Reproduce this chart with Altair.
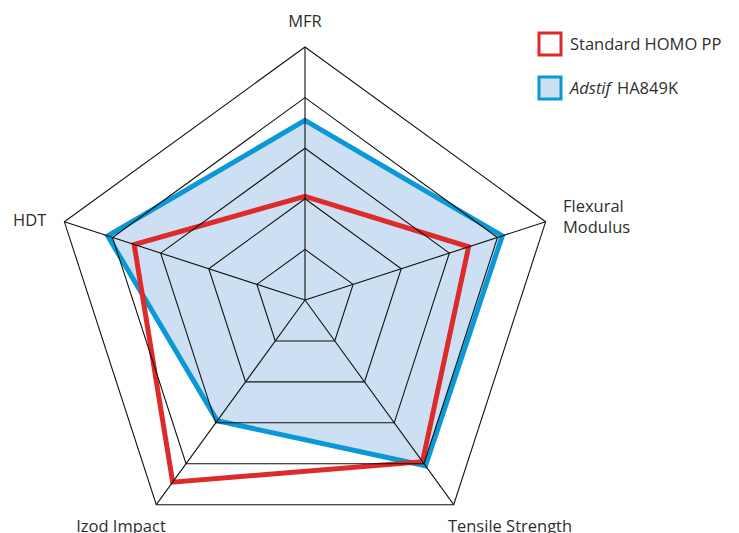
import math
import altair as alt
import pandas as pd

# ---- data ----
axis_names = ["MFR", "Flexural Modulus", "Tensile Strength", "Izod Impact", "HDT"]
standard_values = [41, 68, 79, 89, 71]
adstif_values = [71, 82, 81, 59, 82]
ring_levels = [20, 40, 60, 80, 100]
series_names = ["Standard HOMO PP", "Adstif HA849K"]

RED = "#dd2a2a"
BLUE = "#0a98d6"
FILL = "#cde0f3"
TEXT = "#2e2e2e"
FONT = "Open Sans"

# ---- layout (pixels inside the plot area) ----
W, H = 723, 525
CX, CY, R = 297, 292, 253
x_dom = [-CX / R, (W - CX) / R]
y_dom = [-(H - CY) / R, CY / R]
xs = alt.Scale(domain=x_dom, nice=False, zero=False)
ys = alt.Scale(domain=y_dom, nice=False, zero=False)
N = len(axis_names)

series_rows = []
for name, vals in zip(series_names, [standard_values, adstif_values]):
    for i, (a, v) in enumerate(zip(axis_names, vals)):
        series_rows.append({"series": name, "axis": a, "idx": i, "value": v})
series_df = pd.DataFrame(series_rows)

ring_rows = []
for lvl in ring_levels:
    for i, a in enumerate(axis_names):
        ring_rows.append({"level": lvl, "axis": a, "idx": i, "value": lvl})
ring_df = pd.DataFrame(ring_rows)

spoke_df = pd.DataFrame({"axis": axis_names, "idx": list(range(N)), "value": [ring_levels[-1]] * N})

ang = f"datum.idx * 2 * PI / {N}"
calc = dict(
    x=f"datum.value / 100 * sin({ang})",
    y=f"datum.value / 100 * cos({ang})",
)


def poly(df):
    return alt.Chart(df).transform_calculate(**calc)


X = alt.X("x:Q", scale=xs, axis=None)
Y = alt.Y("y:Q", scale=ys, axis=None)

adstif = poly(series_df).transform_filter(alt.datum.series == series_names[1]).mark_line(
    interpolate="linear-closed", fill=FILL, stroke=BLUE, strokeWidth=5, strokeJoin="miter"
).encode(x=X, y=Y, order="idx:Q")

standard = poly(series_df).transform_filter(alt.datum.series == series_names[0]).mark_line(
    interpolate="linear-closed", stroke=RED, strokeWidth=5, strokeJoin="miter"
).encode(x=X, y=Y, order="idx:Q")

rings = poly(ring_df).mark_line(
    interpolate="linear-closed", stroke="#111111", strokeWidth=1.1
).encode(x=X, y=Y, detail="level:N", order="idx:Q")

spokes = poly(spoke_df).transform_calculate(zero="0").mark_rule(
    stroke="#111111", strokeWidth=1.1
).encode(
    x=alt.X("zero:Q", scale=xs, axis=None),
    y=alt.Y("zero:Q", scale=ys, axis=None),
    x2="x:Q",
    y2="y:Q",
)


def label(text, x, y, align="left", italic=False, size=16.5):
    return alt.Chart(pd.DataFrame({"t": [text]})).mark_text(
        align=align, baseline="alphabetic", font=FONT, fontSize=size,
        fontStyle="italic" if italic else "normal", color=TEXT,
    ).encode(text="t:N", x=alt.value(x), y=alt.value(y))


labels = [
    label(axis_names[0], 297, 19, "center"),
    label("Flexural", 555, 204),
    label("Modulus", 555, 225),
    label(axis_names[2], 502, 524, "center"),
    label(axis_names[3], 113, 524, "center"),
    label(axis_names[4], 5, 218),
]

legend_red = alt.Chart(pd.DataFrame({"s": [series_names[0]]})).mark_point(
    shape="square", size=484, filled=False, fill="white", stroke=RED, strokeWidth=3, opacity=1
).encode(x=alt.value(542), y=alt.value(36))
legend_blue = alt.Chart(pd.DataFrame({"s": [series_names[1]]})).mark_point(
    shape="square", size=484, filled=False, fill=FILL, stroke=BLUE, strokeWidth=3, opacity=1
).encode(x=alt.value(542), y=alt.value(80))

legend_text = [
    label(series_names[0], 562, 42),
    label("Adstif", 562, 86, italic=True),
    label("HA849K", 609, 86),
]

chart = alt.layer(
    adstif, standard, rings, spokes, legend_red, legend_blue, *labels, *legend_text
).properties(
    width=W, height=H, padding=0, autosize=alt.AutoSizeParams(type="none"), background="white"
).configure_view(strokeWidth=0)

chart.save("out.html", embed_options={"renderer": "svg", "actions": False})
